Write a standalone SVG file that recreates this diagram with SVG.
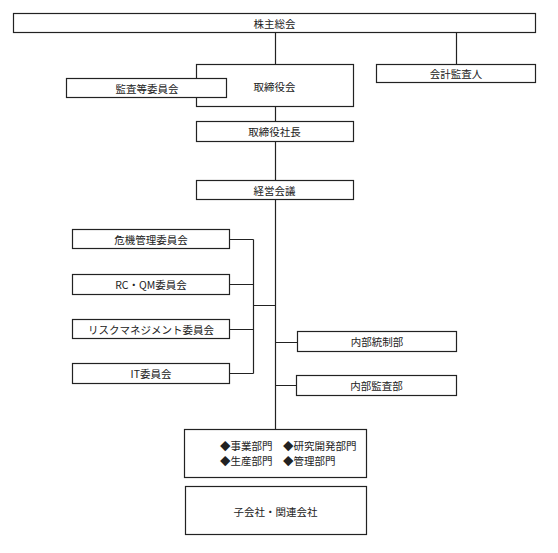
<svg xmlns="http://www.w3.org/2000/svg" width="558" height="553" viewBox="0 0 558 553">
<style>
.b{fill:#fff;stroke:#222;stroke-width:1.2}
.c{fill:none;stroke:#222;stroke-width:1.2}
text{font-family:"Noto Sans CJK JP","Liberation Serif",serif;font-size:10.5px;fill:#222;text-anchor:middle;dominant-baseline:central}
.l{text-anchor:start}
</style>
<rect width="558" height="553" fill="#fff"/>
<g id="connectors">
<path class="c" d="M275.5 33V64M456.5 33V64M275.5 107V121M275.5 142V180M275.5 200V429"/>
<path class="c" d="M229.5 239.5H253.5M229.5 284.5H253.5M229.5 329.5H253.5M229.5 373.5H253.5M253.5 239.5V373.5M253.5 305.5H275.5"/>
<path class="c" d="M275.5 342.5H297.5M275.5 385.5H296.5"/>
</g>
<g id="shareholders"><rect class="b" x="13.5" y="13.5" width="522" height="19"/><text x="274.5" y="23">株主総会</text></g>
<g id="board"><rect class="b" x="196.5" y="64.5" width="157" height="42"/><text x="274.5" y="86.5">取締役会</text></g>
<g id="audit-committee"><rect class="b" x="66.5" y="78.5" width="160" height="19"/><text x="147" y="88">監査等委員会</text></g>
<g id="accounting-auditor"><rect class="b" x="376.5" y="64.5" width="159" height="18"/><text x="456" y="73.5">会計監査人</text></g>
<g id="president"><rect class="b" x="196.5" y="121.5" width="157" height="20"/><text x="274.5" y="131.5">取締役社長</text></g>
<g id="management-meeting"><rect class="b" x="196.5" y="180.5" width="157" height="19"/><text x="274.5" y="190">経営会議</text></g>
<g id="crisis"><rect class="b" x="72.5" y="229.5" width="157" height="19"/><text x="151" y="239">危機管理委員会</text></g>
<g id="rcqm"><rect class="b" x="72.5" y="274.5" width="157" height="20"/><text x="151" y="284.5">RC・QM委員会</text></g>
<g id="risk"><rect class="b" x="72.5" y="319.5" width="157" height="19"/><text x="151" y="329">リスクマネジメント委員会</text></g>
<g id="it"><rect class="b" x="72.5" y="363.5" width="157" height="20"/><text x="151" y="373.5">IT委員会</text></g>
<g id="internal-control"><rect class="b" x="297.5" y="331.5" width="159" height="20"/><text x="377" y="341.5">内部統制部</text></g>
<g id="internal-audit"><rect class="b" x="296.5" y="375.5" width="160" height="20"/><text x="376.5" y="385.5">内部監査部</text></g>
<g id="divisions"><rect class="b" x="184.5" y="429.5" width="182" height="48"/>
<text class="l" x="220" y="445">◆事業部門</text><text class="l" x="283" y="445">◆研究開発部門</text>
<text class="l" x="220" y="460">◆生産部門</text><text class="l" x="283" y="460">◆管理部門</text></g>
<g id="subsidiaries"><rect class="b" x="185.5" y="486.5" width="181" height="48"/><text x="275.5" y="511">子会社・関連会社</text></g>
</svg>
